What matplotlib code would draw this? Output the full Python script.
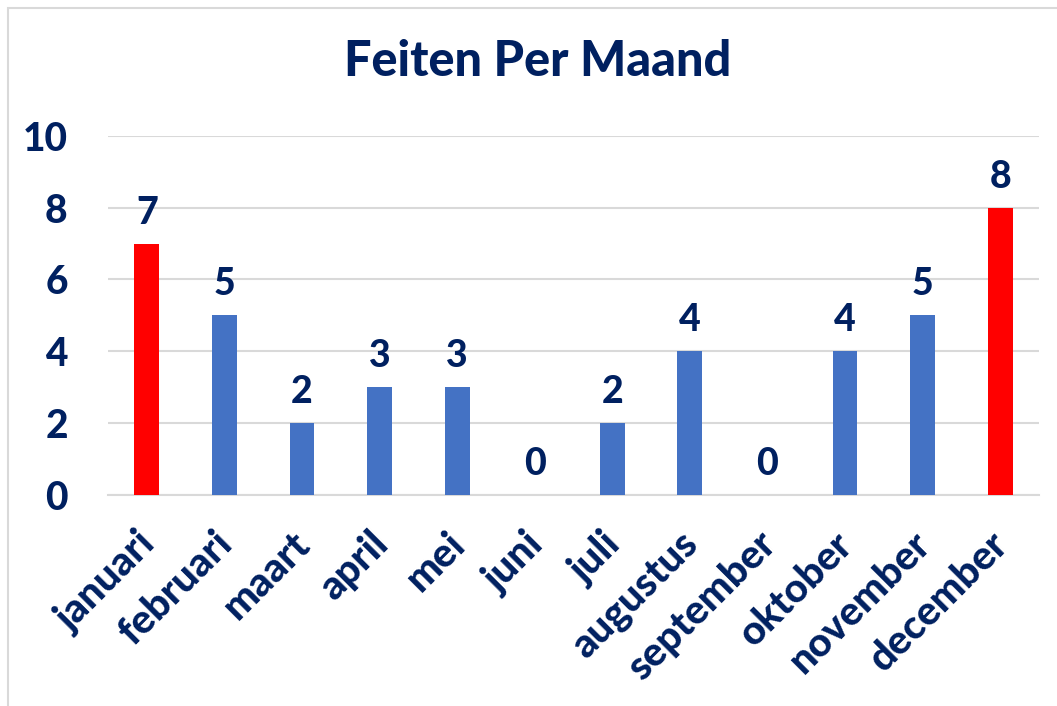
import matplotlib
matplotlib.use("Agg")
import matplotlib.pyplot as plt
from matplotlib.patches import Rectangle
from matplotlib.transforms import ScaledTranslation

months = ["januari", "februari", "maart", "april", "mei", "juni", "juli",
          "augustus", "september", "oktober", "november", "december"]
values = [7, 5, 2, 3, 3, 0, 2, 4, 0, 4, 5, 8]
highlight = ["januari", "december"]
yticks = [0, 2, 4, 6, 8, 10]

BLUE = "#4472C4"
RED = "#FF0000"
NAVY = "#002060"
GRID = "#D9D9D9"
FONT = "Lato"
W = "black"

fig = plt.figure(figsize=(10.57, 7.06), dpi=100)
fig.patches.append(Rectangle((8 / 1057, -0.1), 1.2, (706 - 8) / 706 + 0.1,
                             transform=fig.transFigure, fill=False,
                             edgecolor=GRID, linewidth=1.5))
ax = fig.add_axes([108 / 1057, 211.3 / 706, 931 / 1057, 358.7 / 706])

colors = [RED if m in highlight else BLUE for m in months]
x = list(range(len(months)))
ax.bar(x, values, width=0.32, color=colors, zorder=3)

for xi, v in zip(x, values):
    ax.annotate(str(v), (xi, v), xytext=(0, 14), textcoords="offset pixels",
                ha="center", va="bottom", fontsize=27, fontweight=W,
                color=NAVY, family=FONT)

ax.set_xlim(-0.5, len(months) - 0.5)
ax.set_ylim(0, 10)
ax.set_yticks(yticks)
ax.set_yticklabels([str(t) for t in yticks], fontsize=28, fontweight=W,
                   color=NAVY, family=FONT)
ax.set_xticks(x)
ax.set_xticklabels(months, rotation=45, ha="right", rotation_mode="anchor",
                   fontsize=29, fontweight=W, color=NAVY, family=FONT)
ax.tick_params(axis="both", length=0)
ax.tick_params(axis="x", pad=22)
ax.tick_params(axis="y", pad=29)
shift = ScaledTranslation(-11 / 100, 0, fig.dpi_scale_trans)
for lbl in ax.get_xticklabels():
    lbl.set_transform(lbl.get_transform() + shift)
ax.yaxis.grid(True, color=GRID, linewidth=1.5, zorder=0)
for s in ["top", "right", "left"]:
    ax.spines[s].set_visible(False)
ax.spines["bottom"].set_color(GRID)
ax.spines["bottom"].set_linewidth(1.5)

fig.text(538 / 1057, 1 - 62 / 706, "Feiten Per Maand", ha="center", va="center",
         fontsize=35, fontweight=W, color=NAVY, family=FONT)

fig.savefig("out.png", dpi=100)
